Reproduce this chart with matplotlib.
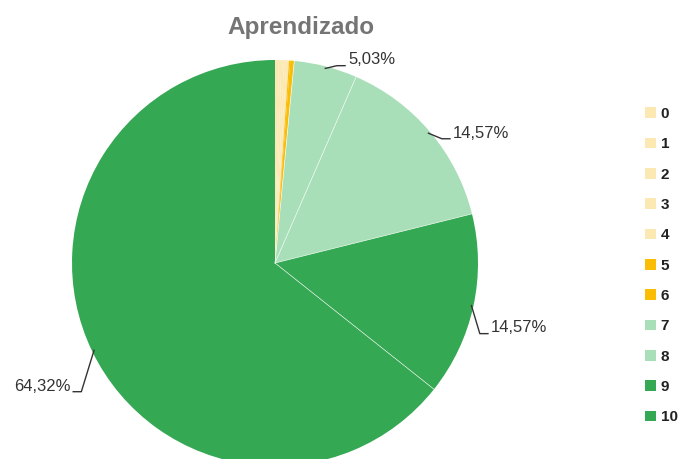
import numpy as np
import matplotlib.pyplot as plt
from matplotlib.patches import Patch

plt.rcParams['font.family'] = ['Liberation Sans', 'DejaVu Sans']

# notas 0..10 e percentuais
notas = ['0', '1', '2', '3', '4', '5', '6', '7', '8', '9', '10']
percentuais = [0.30, 0.20, 0.20, 0.20, 0.20, 0.10, 0.31, 5.03, 14.57, 14.57, 64.32]
cores = ['#fce8b2', '#fce8b2', '#fce8b2', '#fce8b2', '#fce8b2',
         '#fbbc04', '#fbbc04', '#a8dfb8', '#a8dfb8', '#34a853', '#34a853']

# posicoes dos rotulos (somente fatias >= 5%)
rotulos_pos = {7: (0.36, 1.0, 'left'), 8: (0.877, 0.64, 'left'),
               9: (1.064, -0.32, 'left'), 10: (-1.009, -0.606, 'right')}

fig = plt.figure(figsize=(6.8, 4.59), dpi=100)
ax = fig.add_axes([72 / 680, -7 / 459, 406 / 680, 406 / 459])

wedges, _ = ax.pie(percentuais, colors=cores, startangle=90, counterclock=False,
                   radius=1, wedgeprops=dict(linewidth=0))
for w in wedges:
    w.set_clip_on(False)
ax.set_xlim(-1, 1)
ax.set_ylim(-1, 1)
ax.set_aspect('equal')
ax.axis('off')

# fina linha branca entre as fatias grandes
cum = np.cumsum([0] + percentuais)
for i in [7, 8, 9, 10]:
    a = np.deg2rad(90 - cum[i] * 3.6)
    ax.plot([0, np.cos(a)], [0, np.sin(a)], color='white', lw=0.5, alpha=0.8)

for i, (tx, ty, ha) in rotulos_pos.items():
    mid = np.deg2rad(90 - (cum[i] + percentuais[i] / 2) * 3.6)
    ex, ey = np.cos(mid) * 0.99, np.sin(mid) * 0.99
    s = 1 if ha == 'left' else -1
    ly = ty - 0.028
    ax.plot([ex, tx - s * 0.055, tx - s * 0.015], [ey, ly, ly],
            color='#333333', lw=1.0, clip_on=False)
    txt = f'{percentuais[i]:.2f}'.replace('.', ',') + '%'
    ax.text(tx, ty, txt, ha=ha, va='center', fontsize=12, color='#333333')

fig.text(0.443, 0.94, 'Aprendizado', ha='center', va='center', fontsize=17.5,
         fontweight='bold', color='#757575')

handles = [Patch(facecolor=c, edgecolor='none') for c in cores]
leg = fig.legend(handles, notas, loc='center left', bbox_to_anchor=(0.94, 0.421),
                 frameon=False, handlelength=0.7, handleheight=0.7,
                 handletextpad=0.3, labelspacing=1.07, borderaxespad=0,
                 prop=dict(size=11, weight='bold'))
for t in leg.get_texts():
    t.set_color('#222222')

fig.savefig('out.png', dpi=100, facecolor='white')
